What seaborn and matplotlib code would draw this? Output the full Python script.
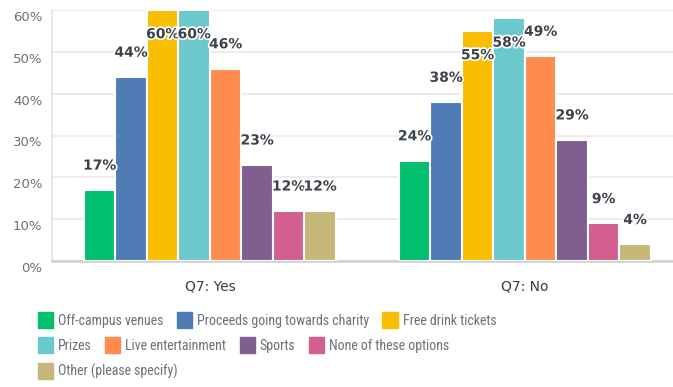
import matplotlib
matplotlib.use("Agg")
import matplotlib.pyplot as plt
import matplotlib.transforms as mtransforms
import matplotlib.patheffects as pe
from matplotlib.patches import Patch
import seaborn as sns
import pandas as pd

questions = ["Q7: Yes", "Q7: No"]
options = ["Off-campus venues", "Proceeds going towards charity", "Free drink tickets",
           "Prizes", "Live entertainment", "Sports", "None of these options",
           "Other (please specify)"]
yes_values = [17, 44, 60, 60, 46, 23, 12, 12]
no_values = [24, 38, 55, 58, 49, 29, 9, 4]
colors = ["#00bf6f", "#507cb6", "#f9be00", "#6bc8cd", "#ff8b4f", "#7f5f90", "#d25f90", "#c7b879"]
yticks = [0, 10, 20, 30, 40, 50, 60]
legend_rows = [[0, 1, 2], [3, 4, 5, 6], [7]]

rows = []
for q, vals in zip(questions, [yes_values, no_values]):
    for o, v in zip(options, vals):
        rows.append({"question": q, "option": o, "value": v})
df = pd.DataFrame(rows)

sns.set_theme(style="white")
plt.rcParams["font.family"] = ["DejaVu Sans"]

W, H = 673, 387
fig = plt.figure(figsize=(W / 100, H / 100), dpi=100)
ax = fig.add_axes([52 / W, 1 - 261 / H, (W - 52) / W, (261 - 10) / H])

sns.barplot(data=df, x="question", y="value", hue="option", hue_order=options,
            palette=colors, width=0.8, edgecolor="white", linewidth=1.5,
            legend=False, ax=ax, saturation=1, zorder=3)

ax.set_xlim(-0.5016, 1.47)
ax.set_ylim(0, 60)
ax.set_yticks(yticks)
ax.set_yticklabels([f"{t}%" for t in yticks])
ax.grid(axis="y", color="#ececec", linewidth=1.5, zorder=0)
ax.set_axisbelow(True)
ax.set_xlabel("")
ax.set_ylabel("")
for s in ["top", "right"]:
    ax.spines[s].set_visible(False)
ax.spines["left"].set_color("#e2e2e2")
ax.spines["left"].set_linewidth(1.2)
ax.spines["bottom"].set_color("#cfcfcf")
ax.spines["bottom"].set_linewidth(1.8)
ax.tick_params(axis="y", length=0, pad=7, labelsize=9.5, labelcolor="#6b7178")
ax.tick_params(axis="x", length=0, pad=13, labelsize=10, labelcolor="#333e48")
off = mtransforms.ScaledTranslation(0, -6 / 100, fig.dpi_scale_trans)
for lab in ax.get_yticklabels():
    lab.set_transform(lab.get_transform() + off)

# value labels
for container in ax.containers:
    for bar in container:
        v = bar.get_height()
        cx = bar.get_x() + bar.get_width() / 2
        y = v + 5.8 if v + 5.8 <= 57 else v - 5.8
        ax.text(cx, y, f"{v:.0f}%", ha="center", va="center", fontsize=10,
                fontweight="bold", color="#3b424a", zorder=5,
                path_effects=[pe.withStroke(linewidth=2.5, foreground="white")])

# legend rows (flow layout)
row_y = [320, 345, 371]
for r, idxs in enumerate(legend_rows):
    handles = [Patch(facecolor=colors[i], edgecolor=colors[i], label=options[i]) for i in idxs]
    leg = fig.legend(handles=handles, ncol=len(idxs), loc="center left",
                     bbox_to_anchor=(38 / W, 1 - row_y[r] / H), frameon=False,
                     prop={"family": ["Roboto Condensed", "DejaVu Sans"], "size": 10},
                     handlelength=1.1, handleheight=1.4,
                     handletextpad=0.36, columnspacing=0.95, borderpad=0, borderaxespad=0)
    for t in leg.get_texts():
        t.set_color("#6b7178")

fig.savefig("out.png", dpi=100)
